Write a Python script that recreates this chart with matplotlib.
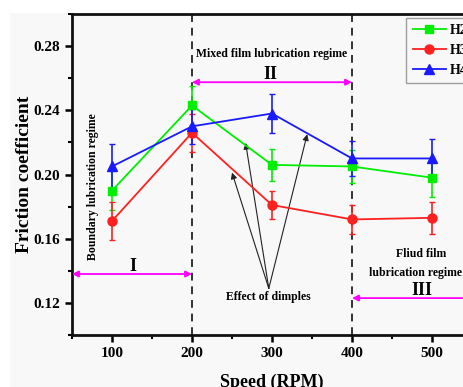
import matplotlib.pyplot as plt
from matplotlib.patches import Rectangle
from matplotlib.lines import Line2D

speed = [100, 200, 300, 400, 500]
h2 = [0.190, 0.243, 0.206, 0.205, 0.198]
h2_err = [0.012, 0.012, 0.010, 0.010, 0.012]
h3 = [0.171, 0.226, 0.181, 0.172, 0.173]
h3_err = [0.012, 0.012, 0.009, 0.009, 0.010]
h4 = [0.205, 0.230, 0.238, 0.210, 0.210]
h4_err = [0.014, 0.011, 0.012, 0.011, 0.012]

serif = 'Liberation Serif'

fig = plt.figure(figsize=(4.64, 3.87), dpi=100, facecolor='white')
fig.patches.append(Rectangle((10 / 464, 0), 1, 1 - 13 / 387, transform=fig.transFigure,
                             facecolor='#f8f8f8', edgecolor='none', zorder=-10))
ax = fig.add_axes([72 / 464, 52 / 387, 400 / 464, 321 / 387])
ax.set_facecolor('#f8f8f8')

series = [('H2', h2, h2_err, '#00ee00', 's', 6),
          ('H3', h3, h3_err, '#ff2020', 'o', 6.5),
          ('H4', h4, h4_err, '#1a1aff', '^', 6.5)]
handles = []
for name, vals, err, col, mk, ms in series:
    ax.errorbar(speed, vals, yerr=err, color=col, marker=mk, ms=ms, lw=1.3,
                capsize=2.5, elinewidth=1.2, zorder=3)
    handles.append(Line2D([], [], color=col, marker=mk, ms=ms, lw=1.3, label=name))

for xv in [200, 400]:
    ax.axvline(xv, color='#333333', ls=(0, (4, 3)), lw=1.4, zorder=2)

ax.set_xlim(50, 550)
ax.set_ylim(0.10, 0.30)
ax.set_xticks([100, 200, 300, 400, 500])
ax.set_xticks([50, 150, 250, 350, 450], minor=True)
ax.set_yticks([0.12, 0.16, 0.20, 0.24, 0.28])
ax.set_yticks([0.10, 0.14, 0.18, 0.22, 0.26, 0.30], minor=True)
ax.set_yticklabels(['0.12', '0.16', '0.20', '0.24', '0.28'])
for lab in ax.get_xticklabels() + ax.get_yticklabels():
    lab.set_fontfamily(serif)
    lab.set_fontweight('bold')
    lab.set_fontsize(11)
ax.tick_params(which='major', direction='out', length=5, width=1.8)
ax.tick_params(which='minor', direction='out', length=3, width=1.5)
for s in ax.spines.values():
    s.set_linewidth(2)
    s.set_color('#111111')

ax.set_xlabel('Speed (RPM)', fontfamily=serif, fontweight='bold', fontsize=13, labelpad=10)
ax.set_ylabel('Friction coefficient', fontfamily=serif, fontweight='bold', fontsize=14, labelpad=0)

pink = '#ff00ff'
arrow_kw = dict(arrowstyle='<|-|>', color=pink, lw=1.3, mutation_scale=9, shrinkA=0, shrinkB=0)
ax.annotate('', xy=(50, 0.138), xytext=(200, 0.138), arrowprops=arrow_kw)
ax.annotate('', xy=(200, 0.2575), xytext=(400, 0.2575), arrowprops=arrow_kw)
ax.annotate('', xy=(400, 0.123), xytext=(560, 0.123), arrowprops=arrow_kw,
            annotation_clip=False)

tkw = dict(fontfamily=serif, fontweight='bold', ha='center', va='center')
ax.text(126, 0.1425, 'I', fontsize=13, **tkw)
ax.text(298, 0.2625, 'II', fontsize=13, **tkw)
ax.text(487, 0.128, 'III', fontsize=13, **tkw)
ax.text(300, 0.2748, 'Mixed film lubrication regime', fontsize=8.5, **tkw)
ax.text(486, 0.1505, 'Fliud film', fontsize=8.5, **tkw)
ax.text(479, 0.1387, 'lubrication regime', fontsize=8.5, **tkw)
ax.text(76, 0.1925, 'Boundary lubrication regime', fontsize=8.5, rotation=90, **tkw)
ax.text(296, 0.1237, 'Effect of dimples', fontsize=8.5, **tkw)

tail = (296, 0.129)
for head in [(250, 0.2012), (267, 0.2197), (344, 0.2251)]:
    ax.annotate('', xy=head, xytext=tail,
                arrowprops=dict(arrowstyle='-|>', color='#222222', lw=0.8,
                                mutation_scale=9, shrinkA=0, shrinkB=0))

leg = ax.legend(handles=handles, loc='upper left', bbox_to_anchor=(0.836, 0.988),
                borderaxespad=0, frameon=True, fancybox=False, edgecolor='#888888',
                facecolor='#f8f8f8', prop={'family': serif, 'weight': 'bold', 'size': 10},
                handlelength=2.4, labelspacing=0.5, borderpad=0.45, handletextpad=0.25)
leg.get_frame().set_linewidth(1.0)

fig.savefig('out.png', dpi=100)
